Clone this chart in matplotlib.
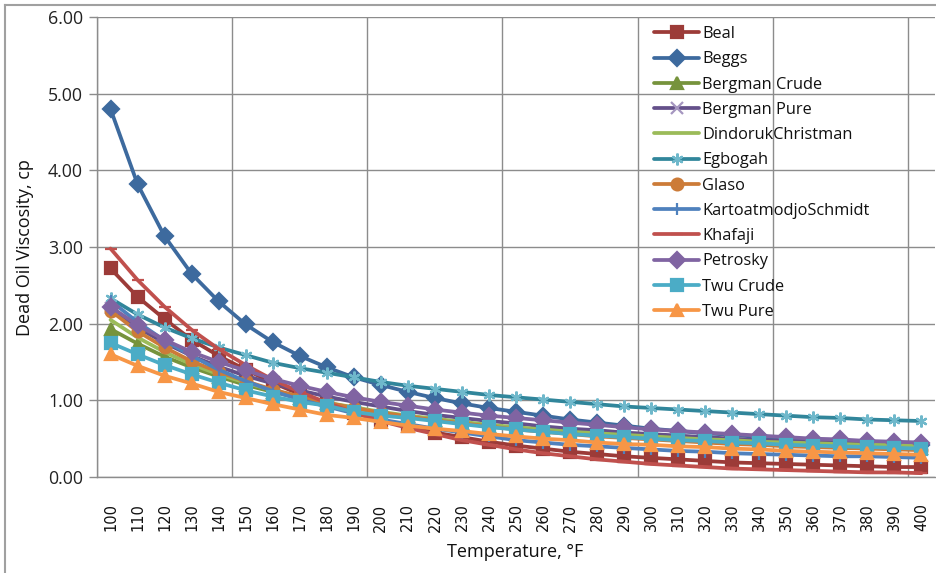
import matplotlib
matplotlib.use("Agg")
import matplotlib.pyplot as plt
from matplotlib.lines import Line2D

# temperatures (°F) on the category axis
temps = list(range(100, 401, 10))

beal = [2.72, 2.35, 2.06, 1.79, 1.58, 1.40, 1.23, 1.08, 0.96, 0.84, 0.74, 0.66, 0.58, 0.52, 0.46,
        0.41, 0.37, 0.33, 0.30, 0.27, 0.25, 0.23, 0.21, 0.19, 0.18, 0.17, 0.16, 0.15, 0.14, 0.13, 0.13]
beggs = [4.80, 3.82, 3.14, 2.65, 2.29, 1.99, 1.76, 1.58, 1.43, 1.30, 1.20, 1.11, 1.03, 0.96, 0.90,
         0.85, 0.80, 0.75, 0.71, 0.67, 0.63, 0.60, 0.57, 0.55, 0.52, 0.50, 0.48, 0.46, 0.45, 0.43, 0.42]
bergman_crude = [1.93, 1.74, 1.57, 1.43, 1.31, 1.20, 1.11, 1.03, 0.96, 0.90, 0.84, 0.79, 0.75, 0.71, 0.67,
                 0.64, 0.61, 0.58, 0.56, 0.53, 0.51, 0.49, 0.48, 0.46, 0.45, 0.43, 0.42, 0.41, 0.40, 0.39, 0.38]
bergman_pure = [2.20, 1.95, 1.75, 1.58, 1.44, 1.32, 1.22, 1.13, 1.05, 0.98, 0.92, 0.86, 0.81, 0.77, 0.73,
                0.70, 0.66, 0.63, 0.61, 0.58, 0.56, 0.54, 0.52, 0.50, 0.48, 0.47, 0.45, 0.44, 0.43, 0.41, 0.40]
dindoruk = [2.05, 1.82, 1.63, 1.47, 1.34, 1.23, 1.13, 1.05, 0.97, 0.91, 0.85, 0.80, 0.76, 0.72, 0.68,
            0.65, 0.62, 0.59, 0.57, 0.55, 0.53, 0.51, 0.49, 0.48, 0.46, 0.45, 0.44, 0.43, 0.42, 0.42, 0.41]
egbogah = [2.33, 2.12, 1.95, 1.81, 1.69, 1.59, 1.49, 1.42, 1.36, 1.30, 1.24, 1.19, 1.15, 1.11, 1.07,
           1.04, 1.01, 0.98, 0.95, 0.92, 0.90, 0.88, 0.86, 0.84, 0.82, 0.80, 0.78, 0.77, 0.75, 0.74, 0.73]
glaso = [2.17, 1.90, 1.69, 1.51, 1.37, 1.25, 1.14, 1.05, 0.97, 0.90, 0.84, 0.79, 0.74, 0.70, 0.66,
         0.62, 0.59, 0.56, 0.53, 0.51, 0.49, 0.47, 0.45, 0.43, 0.42, 0.40, 0.39, 0.38, 0.37, 0.36, 0.35]
kartoatmodjo = [2.30, 2.02, 1.78, 1.58, 1.40, 1.25, 1.12, 1.01, 0.92, 0.83, 0.75, 0.69, 0.63, 0.58, 0.53,
                0.48, 0.45, 0.42, 0.40, 0.38, 0.36, 0.34, 0.33, 0.31, 0.30, 0.29, 0.28, 0.27, 0.27, 0.26, 0.25]
khafaji = [2.98, 2.57, 2.22, 1.92, 1.67, 1.46, 1.27, 1.11, 0.97, 0.84, 0.73, 0.64, 0.56, 0.48, 0.42,
           0.36, 0.31, 0.27, 0.23, 0.20, 0.17, 0.15, 0.13, 0.11, 0.10, 0.09, 0.08, 0.07, 0.06, 0.06, 0.05]
petrosky = [2.22, 1.98, 1.79, 1.63, 1.50, 1.39, 1.28, 1.19, 1.11, 1.04, 0.98, 0.93, 0.88, 0.84, 0.80,
            0.77, 0.74, 0.71, 0.68, 0.65, 0.62, 0.60, 0.58, 0.56, 0.54, 0.52, 0.50, 0.49, 0.47, 0.46, 0.45]
twu_crude = [1.75, 1.60, 1.46, 1.34, 1.23, 1.13, 1.05, 0.98, 0.93, 0.85, 0.80, 0.77, 0.73, 0.69, 0.65,
             0.62, 0.59, 0.56, 0.54, 0.52, 0.50, 0.48, 0.47, 0.45, 0.44, 0.42, 0.41, 0.40, 0.39, 0.38, 0.37]
twu_pure = [1.60, 1.45, 1.32, 1.22, 1.11, 1.03, 0.95, 0.88, 0.81, 0.77, 0.72, 0.67, 0.63, 0.60, 0.56,
            0.53, 0.50, 0.48, 0.45, 0.43, 0.42, 0.40, 0.39, 0.37, 0.36, 0.34, 0.33, 0.32, 0.31, 0.30, 0.29]

# name, values, line colour, marker, marker face, marker edge
series = [
    ("Beal", beal, "#9C3B38", "s", "#9C3B38", "#9C3B38"),
    ("Beggs", beggs, "#3D6A9E", "D", "#3D6A9E", "#3D6A9E"),
    ("Bergman Crude", bergman_crude, "#76933C", "^", "#76933C", "#76933C"),
    ("Bergman Pure", bergman_pure, "#64508A", "x", "#A596C0", "#A596C0"),
    ("DindorukChristman", dindoruk, "#9BBB59", "None", "#9BBB59", "#9BBB59"),
    ("Egbogah", egbogah, "#31869B", (6, 2, 0), "#6FB8CB", "#6FB8CB"),
    ("Glaso", glaso, "#CC7B38", "o", "#CC7B38", "#CC7B38"),
    ("KartoatmodjoSchmidt", kartoatmodjo, "#4F81BD", "|", "#4F81BD", "#4F81BD"),
    ("Khafaji", khafaji, "#C0504D", "_", "#C0504D", "#C0504D"),
    ("Petrosky", petrosky, "#8064A2", "D", "#8064A2", "#8064A2"),
    ("Twu Crude", twu_crude, "#4BACC6", "s", "#4BACC6", "#4BACC6"),
    ("Twu Pure", twu_pure, "#F79646", "^", "#F79646", "#F79646"),
]

W, H = 936, 573
fig = plt.figure(figsize=(W / 100, H / 100), dpi=100)
ax = fig.add_axes([97 / W, 1 - 477 / H, (935 - 97) / W, (477 - 17) / H])

x = list(range(len(temps)))
for name, vals, col, mk, mfc, mec in series:
    ax.plot(x, vals, color=col, lw=2.7, marker=mk, markersize=8.5,
            markerfacecolor=mfc, markeredgecolor=mec, markeredgewidth=1.6,
            label=name, solid_capstyle="round", solid_joinstyle="round")

ax.set_xlim(-0.5, len(temps) - 0.5)
ax.set_ylim(0, 6)

# category axis: labels on each point, gridlines between every fifth category
ax.set_xticks(x)
ax.set_xticklabels([str(t) for t in temps], rotation=90, fontsize=10.5,
                   family="DejaVu Sans", color="#111111")
ax.tick_params(axis="x", length=0, pad=19)
ax.set_xticks([i - 0.5 for i in range(0, len(temps), 5)], minor=True)
ax.tick_params(axis="x", which="minor", length=0)
ax.grid(True, which="minor", axis="x", color="#8C8C8C", lw=1.0)

ax.set_yticks(range(0, 7))
ax.set_yticklabels([f"{v:.2f}" for v in range(0, 7)], fontsize=12.8,
                   family="Open Sans", color="#222222")
ax.tick_params(axis="y", length=6, width=1, color="#8C8C8C", pad=4)
ax.grid(True, which="major", axis="y", color="#8C8C8C", lw=1.0)
ax.set_axisbelow(True)

for side in ("top", "right"):
    ax.spines[side].set_visible(False)
for side in ("left", "bottom"):
    ax.spines[side].set_color("#8C8C8C")
    ax.spines[side].set_linewidth(1.0)

fig.text(25 / W, 1 - 248 / H, "Dead Oil Viscosity, cp", rotation=90,
         ha="center", va="center", fontsize=13, family="Open Sans", color="#111111")
fig.text(515 / W, 1 - 552 / H, "Temperature, °F", ha="center", va="center",
         fontsize=13, family="Open Sans", color="#111111")

leg = ax.legend(loc="upper left", bbox_to_anchor=(654 / W, 1 - 26 / H),
                bbox_transform=fig.transFigure, frameon=False,
                prop={"family": "Open Sans", "size": 11.8},
                handlelength=2.75, handletextpad=0.2, labelspacing=0.565,
                borderpad=0, borderaxespad=0)
for t in leg.get_texts():
    t.set_color("#111111")

# outer chart border
fig.add_artist(Line2D([5 / W, 5 / W], [0, 1 - 5 / H], transform=fig.transFigure,
                      color="#A0A0A0", lw=1.5))
fig.add_artist(Line2D([5 / W, 1], [1 - 5 / H, 1 - 5 / H], transform=fig.transFigure,
                      color="#A0A0A0", lw=1.5))

fig.savefig("out.png", dpi=100)
